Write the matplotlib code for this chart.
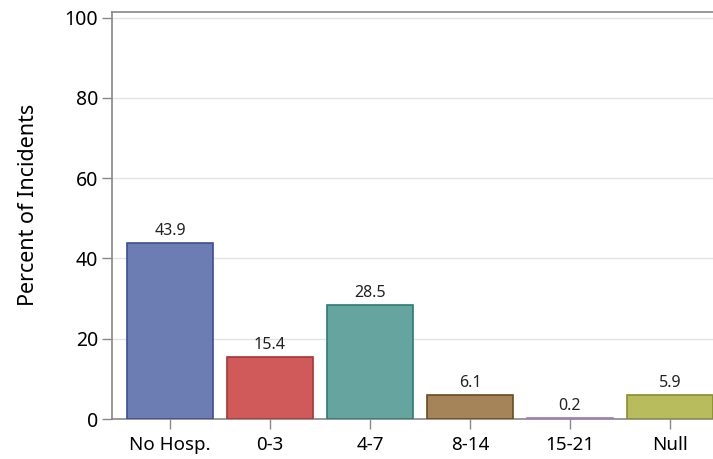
import matplotlib
matplotlib.use("Agg")
import matplotlib.pyplot as plt

categories = ["No Hosp.", "0-3", "4-7", "8-14", "15-21", "Null"]
values = [43.9, 15.4, 28.5, 6.1, 0.2, 5.9]
face_colors = ["#6B7DB3", "#D05A5A", "#66A59F", "#A6845A", "#C9A8D8", "#B8BC5C"]
edge_colors = ["#3D4E9A", "#A83434", "#2A7D73", "#6B4A1F", "#9E7AB8", "#8A8D2A"]
yticks = [0, 20, 40, 60, 80, 100]

plt.rcParams['font.family'] = ['Noto Sans', 'DejaVu Sans']

fig = plt.figure(figsize=(7.13, 4.59), dpi=100)
ax = fig.add_axes([0.157, 0.0871, 1.021 - 0.157, 0.974 - 0.0871])

x = list(range(len(categories)))
ax.bar(x, values, width=0.857, color=face_colors, edgecolor=edge_colors, linewidth=1.2, zorder=3)
for xi, v in zip(x, values):
    ax.text(xi, v + 1.0, f"{v:.1f}", ha="center", va="bottom", fontsize=11.5, color="#222222", zorder=4)

ax.set_xlim(-0.58, 5.58)
ax.set_ylim(0, 101.4)
ax.set_yticks(yticks)
ax.set_xticks(x)
ax.set_xticklabels(categories, fontsize=13.5)
ax.tick_params(axis="y", labelsize=14, length=7, color="#888888", width=1, pad=3)
ax.tick_params(axis="x", length=7, color="#888888", width=1, pad=5)
ax.grid(axis="y", color="#E3E3E3", linewidth=1, zorder=0)
ax.set_axisbelow(True)
for s in ["left", "bottom", "top"]:
    ax.spines[s].set_color("#888888")
    ax.spines[s].set_linewidth(1.2)
ax.spines["right"].set_visible(False)
ax.set_ylabel("Percent of Incidents", fontsize=15.5, labelpad=18)
ax.yaxis.label.set_y(0.525)

fig.savefig("out.png", dpi=100)
